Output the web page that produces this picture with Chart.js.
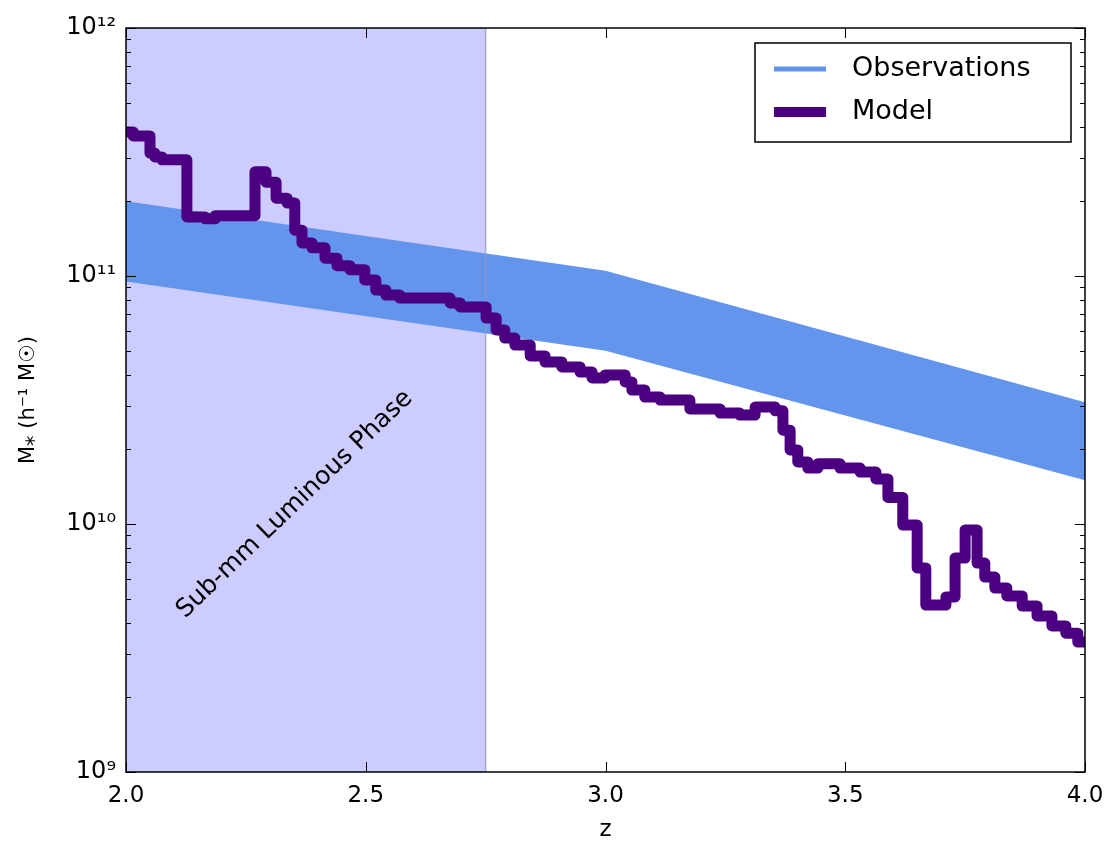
<!DOCTYPE html>
<html>
<head>
<meta charset="utf-8">
<script src="https://cdn.jsdelivr.net/npm/chart.js@4/dist/chart.umd.min.js"></script>
<style>
  body { margin: 0; background: white; }
  #wrap { width: 1111px; height: 844px; }
</style>
</head>
<body>
<div id="wrap"><canvas id="myChart" width="1111" height="844"></canvas></div>
<script>
// observations band (log-linear between these redshifts)
const obsZ = [2.0, 3.0, 4.0]
const obsUpper = [2.0e11, 1.05e11, 3.1e10]
const obsLower = [9.5e10, 5.0e10, 1.5e10]

// sub-mm luminous phase span
const spanZ = [2.0, 2.75]

// model stellar mass, stepped (each value holds until the next z)
const modelZ = [2.000, 2.015, 2.050, 2.060, 2.075, 2.127, 2.165, 2.186, 2.269, 2.292,
  2.313, 2.336, 2.352, 2.367, 2.388, 2.415, 2.440, 2.467, 2.498, 2.521,
  2.542, 2.571, 2.676, 2.697, 2.751, 2.772, 2.790, 2.811, 2.843, 2.874,
  2.909, 2.947, 2.972, 2.999, 3.041, 3.055, 3.082, 3.114, 3.176, 3.239,
  3.280, 3.312, 3.354, 3.370, 3.385, 3.401, 3.422, 3.443, 3.489, 3.531,
  3.564, 3.589, 3.620, 3.650, 3.668, 3.710, 3.729, 3.750, 3.775, 3.791,
  3.812, 3.837, 3.869, 3.900, 3.931, 3.960, 3.985, 4.000]
const modelM = [3.81e11, 3.67e11, 3.13e11, 3.02e11, 2.94e11, 1.73e11, 1.70e11, 1.75e11, 2.63e11, 2.39e11,
  2.06e11, 1.97e11, 1.53e11, 1.36e11, 1.30e11, 1.18e11, 1.10e11, 1.06e11, 9.64e10, 8.78e10,
  8.38e10, 8.15e10, 7.79e10, 7.50e10, 6.77e10, 6.06e10, 5.62e10, 5.27e10, 4.76e10, 4.50e10,
  4.30e10, 4.10e10, 3.88e10, 3.99e10, 3.74e10, 3.47e10, 3.25e10, 3.16e10, 2.91e10, 2.80e10,
  2.75e10, 2.96e10, 2.86e10, 2.39e10, 1.99e10, 1.78e10, 1.68e10, 1.75e10, 1.68e10, 1.62e10,
  1.52e10, 1.28e10, 9.9e9, 6.65e9, 4.71e9, 5.08e9, 7.29e9, 9.46e9, 6.96e9, 6.11e9,
  5.52e9, 5.13e9, 4.67e9, 4.26e9, 3.88e9, 3.63e9, 3.34e9, 3.34e9]

// axes
const xTickValues = [2.0, 2.5, 3.0, 3.5, 4.0]
const yTickValues = [1e9, 1e10, 1e11, 1e12]
const yTickLabels = ['10⁹', '10¹⁰', '10¹¹', '10¹²']

const phaseLabel = 'Sub-mm Luminous Phase'
const phaseAt = { z: 2.352, m: 1.2e10 }

const obsColor = '#6495ED'
const modelColor = '#4B0082'
const spanColor = '#CCCCFF'
const fontFamily = "'DejaVu Sans', sans-serif"

function pts(xs, ys) {
  return xs.map((x, i) => ({ x: x, y: ys[i] }))
}

const decoPlugin = {
  id: 'deco',
  afterDatasetsDraw(chart) {
    const ctx = chart.ctx
    const a = chart.chartArea
    const xs = chart.scales.x
    const ys = chart.scales.y
    ctx.save()

    // rotated phase label
    const lx = xs.getPixelForValue(phaseAt.z)
    const ly = ys.getPixelForValue(phaseAt.m)
    ctx.translate(lx, ly)
    ctx.rotate(-Math.PI / 4 + 0.02)
    ctx.fillStyle = 'black'
    ctx.font = '25px ' + fontFamily
    ctx.textAlign = 'center'
    ctx.textBaseline = 'middle'
    ctx.fillText(phaseLabel, 0, 0)
    ctx.setTransform(1, 0, 0, 1, 0, 0)

    // inside ticks on all four sides
    ctx.strokeStyle = 'black'
    ctx.lineWidth = 1
    ctx.beginPath()
    xTickValues.forEach(v => {
      const px = Math.round(xs.getPixelForValue(v)) + 0.5
      ctx.moveTo(px, a.bottom); ctx.lineTo(px, a.bottom - 10)
      ctx.moveTo(px, a.top); ctx.lineTo(px, a.top + 10)
    })
    ys.ticks.forEach(t => {
      const py = Math.round(ys.getPixelForValue(t.value)) + 0.5
      const len = t.major ? 10 : 5
      ctx.moveTo(a.left, py); ctx.lineTo(a.left + len, py)
      ctx.moveTo(a.right, py); ctx.lineTo(a.right - len, py)
    })
    ctx.stroke()

    ctx.lineWidth = 1.5
    ctx.strokeRect(a.left, a.top, a.right - a.left, a.bottom - a.top)

    // legend box
    const bx = a.right - 330, by = a.top + 15, bw = 316, bh = 99
    ctx.fillStyle = 'white'
    ctx.fillRect(bx, by, bw, bh)
    ctx.strokeStyle = 'black'
    ctx.lineWidth = 1.5
    ctx.strokeRect(bx, by, bw, bh)
    const items = [
      { text: chart.data.datasets[1].label, color: obsColor, width: 5, y: by + 26 },
      { text: chart.data.datasets[4].label, color: modelColor, width: 10, y: by + 69 }
    ]
    items.forEach(it => {
      ctx.strokeStyle = it.color
      ctx.lineWidth = it.width
      ctx.beginPath()
      ctx.moveTo(bx + 19, it.y)
      ctx.lineTo(bx + 71, it.y)
      ctx.stroke()
      ctx.fillStyle = 'black'
      ctx.font = '27px ' + fontFamily
      ctx.textAlign = 'left'
      ctx.textBaseline = 'middle'
      ctx.fillText(it.text, bx + 97, it.y)
    })
    ctx.restore()
  }
}

const ctx = document.getElementById('myChart')

new Chart(ctx, {
  type: 'line',
  data: {
    datasets: [
      {
        label: 'phase',
        data: pts(spanZ, [1e12, 1e12]),
        borderWidth: 0,
        pointRadius: 0,
        fill: 'start',
        backgroundColor: spanColor,
        order: 5
      },
      {
        label: 'Observations',
        data: pts(obsZ, obsUpper),
        borderWidth: 0,
        pointRadius: 0,
        fill: '+1',
        backgroundColor: obsColor,
        order: 3
      },
      {
        label: 'obsLower',
        data: pts(obsZ, obsLower),
        borderWidth: 0,
        pointRadius: 0,
        fill: false,
        order: 4
      },
      {
        label: 'edge',
        data: pts([spanZ[1], spanZ[1]], [1e9, 1e12]),
        borderWidth: 1.5,
        borderColor: 'rgba(150,150,200,0.8)',
        pointRadius: 0,
        fill: false,
        order: 2
      },
      {
        label: 'Model',
        data: pts(modelZ, modelM),
        borderColor: modelColor,
        borderWidth: 11,
        borderJoinStyle: 'round',
        borderCapStyle: 'butt',
        stepped: true,
        pointRadius: 0,
        fill: false,
        clip: 0,
        order: 0
      }
    ]
  },
  plugins: [decoPlugin],
  options: {
    responsive: false,
    animation: false,
    layout: { padding: { top: 28, right: 26, left: 0, bottom: 0 } },
    plugins: {
      legend: { display: false },
      tooltip: { enabled: false }
    },
    scales: {
      x: {
        type: 'linear',
        min: 2.0,
        max: 4.0,
        afterBuildTicks: scale => {
          scale.ticks = xTickValues.map(v => ({ value: v }))
        },
        afterFit: scale => {
          scale.height = 72
          scale.paddingLeft = 0
          scale.paddingRight = 0
        },
        grid: { display: false, drawTicks: false },
        border: { display: false },
        ticks: {
          color: 'black',
          padding: 10,
          font: { family: fontFamily, size: 23 },
          callback: v => v.toFixed(1)
        },
        title: {
          display: true,
          text: 'z',
          color: 'black',
          padding: { top: 12, bottom: 0 },
          font: { family: fontFamily, size: 23 }
        }
      },
      y: {
        type: 'logarithmic',
        min: 1e9,
        max: 1e12,
        afterBuildTicks: scale => {
          const t = []
          yTickValues.forEach((v, i) => {
            t.push({ value: v, major: true })
            if (i < yTickValues.length - 1) {
              for (let m = 2; m <= 9; m++) t.push({ value: m * v, major: false })
            }
          })
          scale.ticks = t
        },
        afterFit: scale => {
          scale.width = 126
          scale.paddingTop = 0
          scale.paddingBottom = 0
        },
        grid: { display: false, drawTicks: false },
        border: { display: false },
        ticks: {
          color: 'black',
          padding: 10,
          autoSkip: false,
          font: { family: fontFamily, size: 24 },
          callback: v => {
            const i = yTickValues.indexOf(v)
            return i >= 0 ? yTickLabels[i] : ''
          }
        },
        title: {
          display: true,
          text: 'M⁎ (h⁻¹ M☉)',
          color: 'black',
          padding: { top: 16, bottom: 0 },
          font: { family: fontFamily, size: 21 }
        }
      }
    }
  }
})
</script>
</body>
</html>
